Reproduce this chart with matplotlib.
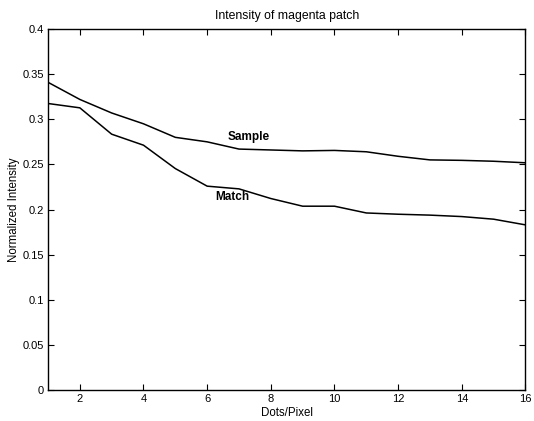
import matplotlib
matplotlib.use("Agg")
import matplotlib.pyplot as plt

plt.rcParams['font.family'] = ['Liberation Sans', 'DejaVu Sans']

dots = [1, 2, 3, 4, 5, 6, 7, 8, 9, 10, 11, 12, 13, 14, 15, 16]
sample = [0.341, 0.322, 0.307, 0.295, 0.280, 0.275, 0.267, 0.266,
          0.265, 0.2655, 0.264, 0.259, 0.255, 0.2545, 0.2535, 0.2518]
match = [0.3175, 0.3127, 0.2835, 0.2713, 0.2454, 0.2259, 0.2229, 0.2122,
         0.2037, 0.2037, 0.1962, 0.1948, 0.1938, 0.1922, 0.1893, 0.1830]

xticks = [2, 4, 6, 8, 10, 12, 14, 16]
yticks = [0, 0.05, 0.1, 0.15, 0.2, 0.25, 0.3, 0.35, 0.4]
ylabels = ["0", "0.05", "0.1", "0.15", "0.2", "0.25", "0.3", "0.35", "0.4"]

fig = plt.figure(figsize=(5.34, 4.21), dpi=100)
ax = fig.add_axes([0.0899, 0.0736, 0.8941, 0.8574])

ax.plot(dots, sample, color="black", lw=1.1)
ax.plot(dots, match, color="black", lw=1.1)

ax.text(7.3, 0.280, "Sample", ha="center", va="center", fontsize=8.5, fontweight="bold")
ax.text(6.8, 0.214, "Match", ha="center", va="center", fontsize=8.5, fontweight="bold")

ax.set_xlim(1, 16)
ax.set_ylim(0, 0.4)
ax.set_xticks(xticks)
ax.set_yticks(yticks)
ax.set_yticklabels(ylabels)
ax.tick_params(direction="in", top=True, right=True, labelsize=8, length=4, pad=3)
for s in ax.spines.values():
    s.set_linewidth(1.0)

ax.set_title("Intensity of magenta patch", fontsize=8.8, pad=7)
ax.set_xlabel("Dots/Pixel", fontsize=8.3, labelpad=2)
ax.set_ylabel("Normalized Intensity", fontsize=8.3, labelpad=2)

fig.savefig("out.png", dpi=100)
